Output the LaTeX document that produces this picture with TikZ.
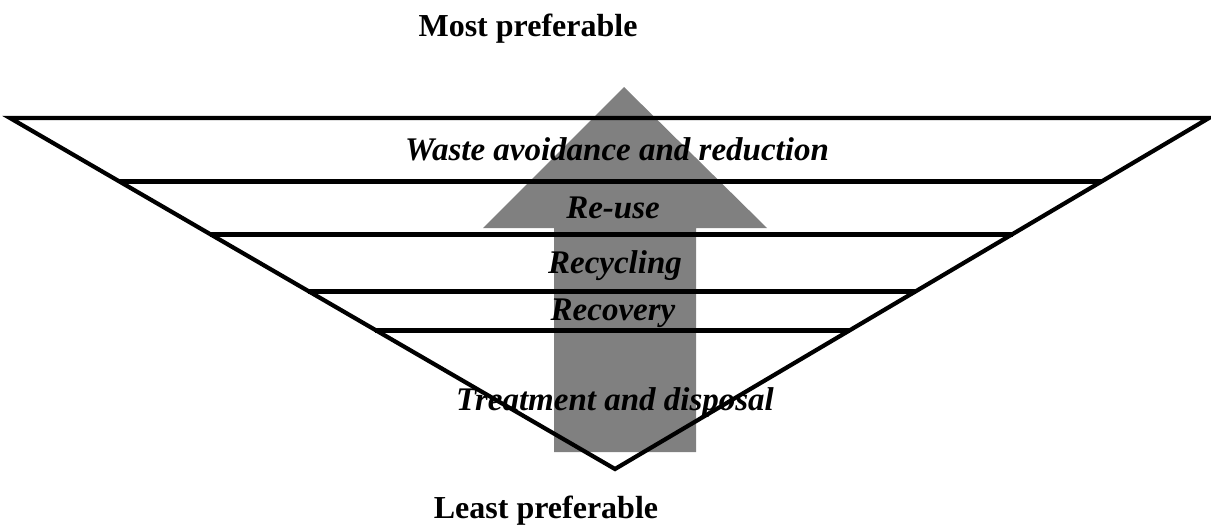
\documentclass[tikz,border=0pt]{standalone}
\usepackage{fontspec}
\setmainfont{Liberation Serif}
\usetikzlibrary{calc}
\definecolor{arrowgray}{RGB}{128,128,128}
\tikzset{
  level/.style={line width=5pt, line cap=butt},
  edge/.style={line width=4.2pt, line join=miter},
  label/.style={anchor=base, inner sep=0pt, font=\fontsize{33}{36}\selectfont\bfseries\itshape},
  title/.style={anchor=base, inner sep=0pt, font=\fontsize{32}{36}\selectfont\bfseries},
}
\begin{document}
\begin{tikzpicture}[x=1pt,y=-1pt]
\useasboundingbox (0,0) rectangle (1211,525);
% arrow
\fill[arrowgray] (554,452) -- (554,228) -- (483,228) -- (624,87) -- (767,228) -- (696,228) -- (696,452) -- cycle;
% triangle
\coordinate (TL) at (10,118);
\coordinate (TR) at (1209,118);
\coordinate (A) at (615,469);
\draw[edge] (TL) -- (TR) -- (A) -- cycle;
\foreach \t/\n in {0.1823/a,0.3305/b,0.4929/c,0.6040/d}{
  \coordinate (L\n) at ($(TL)!\t!(A)$);
  \coordinate (R\n) at ($(TR)!\t!(A)$);
  \draw[level] (L\n) -- (R\n);
}
% labels
\node[title] (most) at (528,36) {Most preferable};
\node[title] (least) at (546,518) {Least preferable};
\node[label] (l1) at (617,160) {Waste avoidance and reduction};
\node[label] (l2) at (613,218) {Re-use};
\node[label] (l3) at (615,273) {Recycling};
\node[label] (l4) at (613,320) {Recovery};
\node[label] (l5) at (615,410) {Treatment and disposal};
\end{tikzpicture}
\end{document}
